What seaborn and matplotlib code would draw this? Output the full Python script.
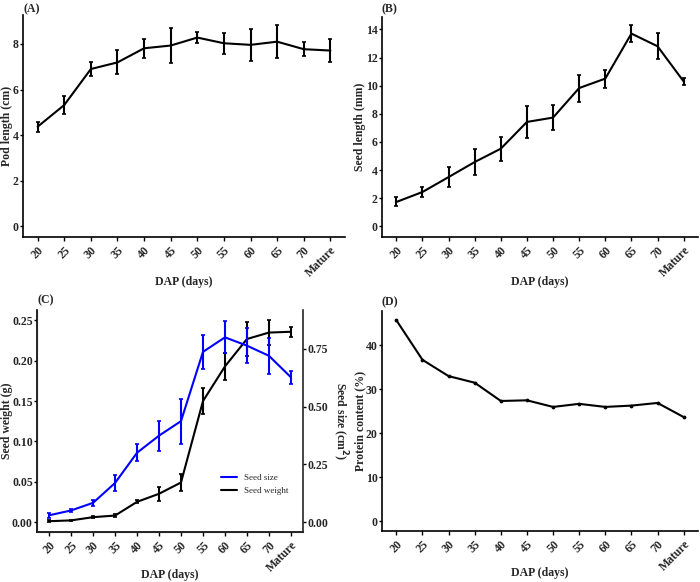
import matplotlib
matplotlib.use("Agg")
import matplotlib.pyplot as plt
import seaborn as sns
import numpy as np
import pandas as pd
from matplotlib.lines import Line2D

sns.set_style("ticks")
plt.rcParams["font.family"] = ["Liberation Serif", "DejaVu Serif"]
plt.rcParams["font.weight"] = "bold"

# data
dap = ["20", "25", "30", "35", "40", "45", "50", "55", "60", "65", "70", "Mature"]

pod_len = [4.37, 5.32, 6.90, 7.19, 7.81, 7.93, 8.28, 8.03, 7.96, 8.10, 7.77, 7.71]
pod_err = [0.22, 0.40, 0.31, 0.53, 0.42, 0.75, 0.26, 0.47, 0.70, 0.73, 0.32, 0.49]

seed_len = [1.73, 2.44, 3.50, 4.57, 5.52, 7.42, 7.73, 9.83, 10.50, 13.70, 12.80, 10.30]
seed_len_err = [0.32, 0.36, 0.69, 0.91, 0.85, 1.11, 0.89, 0.96, 0.64, 0.59, 0.91, 0.27]

seed_wt = [0.001, 0.002, 0.006, 0.008, 0.025, 0.035, 0.049, 0.150, 0.193, 0.227, 0.235, 0.236]
seed_wt_err = [0.001, 0.001, 0.001, 0.002, 0.002, 0.009, 0.010, 0.016, 0.017, 0.021, 0.016, 0.006]

seed_size = [0.029, 0.050, 0.083, 0.169, 0.300, 0.374, 0.437, 0.737, 0.800, 0.764, 0.720, 0.627]
seed_size_err = [0.010, 0.006, 0.013, 0.033, 0.036, 0.065, 0.098, 0.074, 0.070, 0.075, 0.079, 0.027]

protein = [45.7, 36.7, 33.0, 31.5, 27.35, 27.5, 26.0, 26.7, 26.0, 26.3, 26.9, 23.7]

df = pd.DataFrame({"pos": np.arange(len(dap)), "dap": dap,
                   "pod": pod_len, "pod_err": pod_err,
                   "slen": seed_len, "slen_err": seed_len_err,
                   "wt": seed_wt, "wt_err": seed_wt_err,
                   "size": seed_size, "size_err": seed_size_err,
                   "protein": protein})

W, H = 700, 582
TICK_FS = 8.5
LAB_FS = 8.5
fig = plt.figure(figsize=(7, 5.82), dpi=100)


def make_ax(l, t, r, b):
    return fig.add_axes([l / W, (H - b) / H, (r - l) / W, (b - t) / H])


def style(ax, ylabel, ylim, xlab_y, ylab_x):
    for s in ["top", "right"]:
        ax.spines[s].set_visible(False)
    for s in ["left", "bottom"]:
        ax.spines[s].set_linewidth(1.2)
        ax.spines[s].set_color("black")
    ax.set_xlim(-0.55, len(dap) - 0.45)
    ax.set_ylim(*ylim)
    ax.set_xticks(df["pos"])
    ax.set_xticklabels(dap, rotation=45, ha="right", rotation_mode="anchor")
    ax.tick_params(axis="y", length=2, width=1, labelsize=TICK_FS, color="black", pad=1)
    ax.tick_params(axis="x", length=3, width=1, labelsize=TICK_FS, color="black", pad=2)
    for lab in ax.get_xticklabels() + ax.get_yticklabels():
        lab.set_fontweight("bold")
    ax.set_xlabel("DAP (days)", fontsize=LAB_FS, fontweight="bold")
    ax.set_ylabel(ylabel, fontsize=LAB_FS, fontweight="bold")
    ax.xaxis.set_label_coords(0.5, xlab_y)
    ax.yaxis.set_label_coords(ylab_x, 0.5)
    ax.grid(False)


def line_err(ax, y, err, color="black"):
    sns.lineplot(data=df, x="pos", y=y, ax=ax, color=color, linewidth=1.5)
    if err is not None:
        ax.errorbar(df["pos"], df[y], yerr=df[err], fmt="none", ecolor=color,
                    elinewidth=1.5, capsize=1.5, capthick=1.2)


# (A)
axA = make_ax(23, 15, 345, 237)
line_err(axA, "pod", "pod_err")
style(axA, "Pod length (cm)", (-0.47, 9.27), -0.176, -0.031)
axA.set_yticks([0, 2, 4, 6, 8])
fig.text(23 / W, 1 - 9 / H, "(A)", fontsize=8.5, fontweight="bold", ha="left", va="center")

# (B)
axB = make_ax(382, 17, 698, 237)
line_err(axB, "slen", "slen_err")
style(axB, "Seed length (mm)", (-0.76, 14.88), -0.176, -0.051)
axB.set_yticks([0, 2, 4, 6, 8, 10, 12, 14])
fig.text(382 / W, 1 - 9 / H, "(B)", fontsize=8.5, fontweight="bold", ha="left", va="center")

# (C)
axC = make_ax(37, 310, 303, 532)
line_err(axC, "wt", "wt_err", "black")
style(axC, "Seed weight (g)", (-0.0124, 0.263), -0.167, -0.092)
axC.set_yticks([0, 0.05, 0.10, 0.15, 0.20, 0.25])
axC.set_yticklabels(["0.00", "0.05", "0.10", "0.15", "0.20", "0.25"], fontweight="bold")
axC2 = axC.twinx()
line_err(axC2, "size", "size_err", "#0000ff")
axC2.set_ylim(-0.0124 * 2412 / 690.7, 0.263 * 2412 / 690.7)
axC2.set_yticks([0, 0.25, 0.5, 0.75])
axC2.set_yticklabels(["0.00", "0.25", "0.50", "0.75"], fontweight="bold")
axC2.set_ylabel("Seed size (cm$^2$)", fontsize=LAB_FS, fontweight="bold", rotation=270,
                va="bottom")
axC2.yaxis.set_label_coords(1.1, 0.5)
axC2.spines["top"].set_visible(False)
axC2.spines["right"].set_linewidth(1.2)
axC2.tick_params(axis="y", length=2, width=1, labelsize=TICK_FS, color="black", pad=1)
axC2.grid(False)
handles = [Line2D([], [], color="#0000ff", lw=1.5), Line2D([], [], color="black", lw=1.5)]
axC.legend(handles, ["Seed size", "Seed weight"], loc="lower left",
           bbox_to_anchor=(0.66, 0.13), frameon=False, handlelength=1.8,
           prop={"size": 6.5, "weight": "normal"})
fig.text(37 / W, 1 - 300 / H, "(C)", fontsize=8.5, fontweight="bold", ha="left", va="center")

# (D)
axD = make_ax(382, 311, 698, 531)
line_err(axD, "protein", None)
axD.scatter(df["pos"], df["protein"], s=3, color="black", zorder=3)
style(axD, "Protein content (%)", (-2.2, 47.8), -0.164, -0.051)
axD.set_yticks([0, 10, 20, 30, 40])
fig.text(382 / W, 1 - 302 / H, "(D)", fontsize=8.5, fontweight="bold", ha="left", va="center")

fig.savefig("out.png", dpi=100)
